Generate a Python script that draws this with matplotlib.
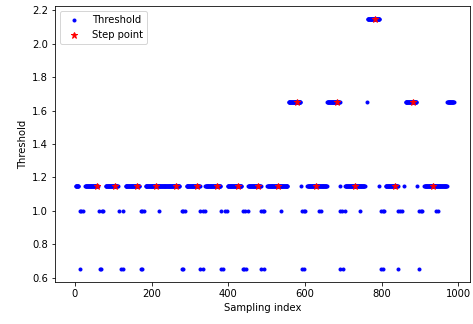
import numpy as np
import matplotlib
matplotlib.use("Agg")
import matplotlib.pyplot as plt

# Contiguous runs of samples (start index, end index, threshold value)
run_starts = [2, 27, 80, 132, 184, 291, 340, 398, 452, 502, 589, 606, 690, 705, 794, 810, 859, 892, 911,
              557, 658, 761, 862, 971, 763]
run_ends   = [9, 59, 111, 168, 272, 325, 379, 434, 484, 554, 589, 656, 690, 755, 794, 841, 859, 892, 969,
              588, 690, 761, 890, 987, 794]
run_values = [1.15] * 19 + [1.65] * 5 + [2.15]

# Isolated samples at lower thresholds
low_idx_100 = [12, 17, 22, 64, 70, 74, 116, 126, 171, 176, 181, 220, 278, 282, 286, 327, 333, 340,
               382, 390, 397, 437, 443, 450, 486, 490, 494, 538, 593, 597, 601, 637, 641, 692, 697, 703,
               742, 797, 802, 807, 841, 847, 854, 896, 901, 906, 942, 946]
low_idx_065 = [13, 66, 69, 119, 126, 173, 176, 278, 283, 327, 335, 382, 387, 437, 442, 447, 486, 494,
               593, 598, 692, 700, 797, 804, 842, 896]

# Step points
step_idx = [57, 104, 162, 211, 263, 318, 370, 425, 477, 529, 579, 628, 683, 730, 782, 834, 881, 934]
step_val = [1.15, 1.15, 1.15, 1.15, 1.15, 1.15, 1.15, 1.15, 1.15, 1.15, 1.65, 1.15, 1.65, 1.15,
            2.15, 1.15, 1.65, 1.15]

xs, ys = [], []
for s, e, v in zip(run_starts, run_ends, run_values):
    seg = np.arange(s, e + 1, 1)
    xs.extend(seg)
    ys.extend([v] * len(seg))
xs.extend(low_idx_100); ys.extend([1.0] * len(low_idx_100))
xs.extend(low_idx_065); ys.extend([0.65] * len(low_idx_065))
order = np.argsort(xs, kind="stable")
xs = np.array(xs)[order]
ys = np.array(ys)[order]

fig = plt.figure(figsize=(473 / 72, 324 / 72), dpi=72)
ax = fig.add_axes([55 / 473, 1 - 282 / 324, 415 / 473, 276 / 324])
ax.plot(xs, ys, 'b.', label='Threshold')
ax.plot(step_idx, step_val, 'r*', markersize=7, label='Step point')
ax.set_xlim(-52, 1030)
ax.set_ylim(0.575, 2.225)
ax.set_xlabel('Sampling index')
ax.set_ylabel('Threshold')
ax.legend(loc='upper left')
fig.savefig('out.png', dpi=72)
